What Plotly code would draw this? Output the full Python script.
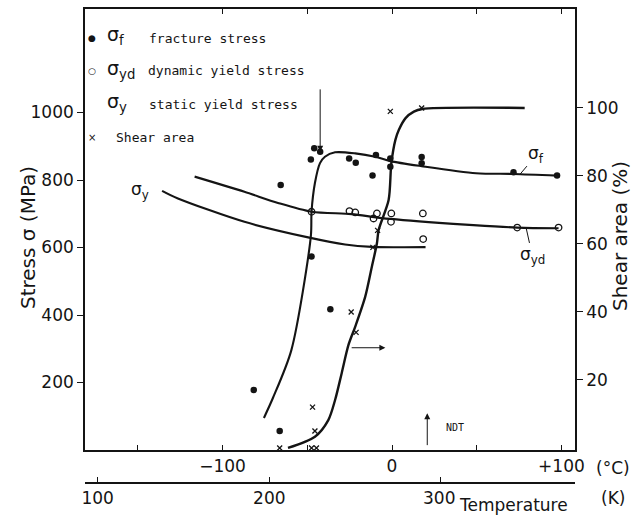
import plotly.graph_objects as go

# ---------------- data ----------------
# fracture stress points (deg C, MPa)
frac_T = [-81.6, -66.3, -65.7, -47.9, -45.9, -42.4, -47.5, -36.4, -25.3, -21.4, -11.5, -9.5, -1.0, -1.0, 17.5, 17.5, 71.7, 97.4]
frac_S = [178, 56, 785, 861, 894, 884, 573, 417, 864, 851, 813, 874, 864, 839, 868, 850, 823, 813]
# dynamic yield stress points
yd_T = [-47.5, -25.1, -21.7, -10.9, -8.9, -0.4, -0.6, 18.2, 18.4, 73.9, 98.3]
yd_S = [706, 708, 704, 686, 701, 701, 676, 701, 625, 659, 659]
# shear area points (deg C, %)
shear_T = [-66.3, -47.5, -44.6, -45.5, -46.9, -24.1, -21.2, -11.3, -8.5, -1.0, 17.5]
shear_P = [0, 0, 0, 5, 12, 40, 34, 59, 64, 99, 100]

# fitted curves
fc_T = [-75.6, -70.3, -59.4, -47.9, -47.5, -45.5, -42.5, -39.6, -33.6, -21.7, -9.9, -1.0, 17.5, 49.6, 71.7, 97.4]
fc_S = [95, 154, 296, 634, 706, 791, 850, 869, 882, 879, 869, 856, 841, 820, 818, 813]
ydc_T = [-116.5, -87.1, -67.3, -47.5, -23.8, -5.9, 27.7, 45.6, 73.9, 98.3]
ydc_S = [810, 765, 732, 706, 699, 687, 673, 667, 659, 657]
yc_T = [-135.7, -126.7, -87.1, -49.5, -27.7, -11.9, 19.8]
yc_S = [768, 746, 676, 630, 609, 602, 601]
sc_T = [-61.4, -45.5, -37.6, -33.6, -29.7, -25.7, -21.7, -15.8, -11.9, -8.9, -7.9, -2.0, -0.4, 2.0, 4.0, 8.0, 12.9, 17.8, 78.3]
sc_P = [0, 3.3, 8.2, 14.1, 22, 30.3, 35.7, 44.5, 53.3, 60.2, 64.1, 72.9, 83.7, 90.6, 93.5, 97, 98.9, 99.7, 100]

# axis ticks
c_ticks = [-150, -100, -50, 0, 50, 100]
c_text = ["", "\u2212100", "", "0", "", "+100"]
top_ticks = [-100, -50, 0, 50, 100]
k_ticks = [100, 200, 300]
k_text = ["100", "200", "300\u2009"]
s_ticks = [200, 400, 600, 800, 1000]
p_ticks = [20, 40, 60, 80, 100]

# ---------------- figure ----------------
INK = "#141414"
W, H = 637, 518
L, R, T, B = 85, 62, 9, 35
PW, PH = W - L - R, H - T - B
AX_Y = 450  # pixel row of main x axis


def px(x):
    return (x - L) / PW


def py(y):
    return (H - B - y) / PH


fig = go.Figure()

line_kw = dict(color=INK, width=2.1)
fig.add_trace(go.Scatter(x=fc_T, y=fc_S, mode="lines", line=dict(shape="spline", smoothing=0.8, **line_kw), hoverinfo="skip"))
fig.add_trace(go.Scatter(x=ydc_T, y=ydc_S, mode="lines", line=dict(shape="spline", smoothing=0.8, **line_kw), hoverinfo="skip"))
fig.add_trace(go.Scatter(x=yc_T, y=yc_S, mode="lines", line=dict(shape="spline", smoothing=0.8, **line_kw), hoverinfo="skip"))
fig.add_trace(go.Scatter(x=sc_T, y=sc_P, mode="lines", yaxis="y2", line=dict(shape="spline", smoothing=0.8, color=INK, width=2.4), hoverinfo="skip"))

fig.add_trace(go.Scatter(x=frac_T, y=frac_S, mode="markers", marker=dict(symbol="circle", size=6.5, color=INK)))
fig.add_trace(go.Scatter(x=yd_T, y=yd_S, mode="markers", marker=dict(symbol="circle-open", size=6.5, color=INK, line=dict(width=1.3))))
fig.add_trace(go.Scatter(x=shear_T, y=shear_P, mode="markers", yaxis="y2", marker=dict(symbol="x-thin", size=5, line=dict(width=1.3, color=INK))))

# invisible traces so the extra axes render
fig.add_trace(go.Scatter(x=[0], y=[0], xaxis="x3", mode="markers", marker=dict(opacity=0), hoverinfo="skip"))
fig.add_trace(go.Scatter(x=[200], y=[0], xaxis="x4", mode="markers", marker=dict(opacity=0), hoverinfo="skip"))

tick_font = dict(family="DejaVu Sans", size=17, color=INK)
y_dom0 = (H - B - AX_Y) / PH

fig.update_layout(
    width=W, height=H,
    margin=dict(l=L, r=R, t=T, b=B, autoexpand=False),
    paper_bgcolor="white", plot_bgcolor="white",
    showlegend=False,
    xaxis=dict(range=[-181.2, 108.0], domain=[0, 1], anchor="y", showgrid=False, zeroline=False,
               automargin=False,
               showline=True, linecolor=INK, linewidth=1.6, mirror=True,
               tickmode="array", tickvals=c_ticks, ticktext=c_text, ticks="inside", ticklen=5,
               tickwidth=1.4, tickcolor=INK, tickfont=tick_font),
    xaxis3=dict(range=[-181.2, 108.0], overlaying="x", side="top", anchor="y", showgrid=False,
                automargin=False,
                zeroline=False, showline=False, tickmode="array", tickvals=top_ticks, ticks="inside",
                ticklen=5, tickwidth=1.4, tickcolor=INK, showticklabels=False),
    xaxis4=dict(range=[92.6, 378.1], overlaying="x", anchor="free", position=0, showgrid=False,
                automargin=False,
                zeroline=False, showline=True, linecolor=INK, linewidth=1.6,
                tickmode="array", tickvals=k_ticks, ticktext=k_text, ticks="inside", ticklen=5,
                tickwidth=1.4, tickcolor=INK, tickfont=tick_font),
    yaxis=dict(range=[0, 1306.7], domain=[y_dom0, 1], anchor="x", showgrid=False, zeroline=False,
               automargin=False,
               showline=True, linecolor=INK, linewidth=1.6,
               tickmode="array", tickvals=s_ticks, ticks="outside", ticklen=6, tickwidth=1.4,
               tickcolor=INK, tickfont=tick_font),
    yaxis2=dict(range=[-0.6, 129.1], overlaying="y", side="right", anchor="x", showgrid=False,
                automargin=False,
                zeroline=False, showline=True, linecolor=INK, linewidth=1.6,
                tickmode="array", tickvals=p_ticks, ticks="outside", ticklen=6, tickwidth=1.4,
                tickcolor=INK, tickfont=tick_font),
)

ann = []


def text(x, y, s, size=13, family="DejaVu Sans Mono", xanchor="center", angle=0):
    ann.append(dict(x=px(x), y=py(y), xref="paper", yref="paper", text=s, showarrow=False,
                    xanchor=xanchor, yanchor="middle", textangle=angle,
                    font=dict(family=family, size=size, color=INK)))


# legend block
text(92, 38, "\u25cf", size=9, family="DejaVu Sans")
text(105, 36, "\u03c3<sub>f</sub>", size=19, family="DejaVu Sans", xanchor="left")
text(147, 38, "fracture stress", xanchor="left")
text(92, 71, "\u25cb", size=9, family="DejaVu Sans")
text(105, 69, "\u03c3<sub>yd</sub>", size=19, family="DejaVu Sans", xanchor="left")
text(146, 70, "dynamic yield stress", xanchor="left")
text(105, 102, "\u03c3<sub>y</sub>", size=19, family="DejaVu Sans", xanchor="left")
text(147, 104, "static yield stress", xanchor="left")
text(92, 137, "\u00d7", size=10, family="DejaVu Sans")
text(114, 137, "Shear area", xanchor="left")

# curve labels
text(140, 190, "\u03c3<sub>y</sub>", size=17, family="DejaVu Sans")
text(455, 427, "NDT", size=10)

# axis titles & units
text(28, 238, "Stress \u03c3 (MPa)", size=20, family="DejaVu Sans", angle=-90)
text(620, 236, "Shear area (%)", size=20, family="DejaVu Sans", angle=-90)
text(613, 468, "(\u00b0C)", size=17, family="DejaVu Sans")
text(613, 498, "(K)", size=17, family="DejaVu Sans")
text(457, 505, "Temperature", size=17, family="DejaVu Sans", xanchor="left")

# leader-line labels for curves
ann.append(dict(x=75.2, y=815, xref="x", yref="y", text="\u03c3<sub>f</sub>", showarrow=True,
                arrowhead=0, arrowwidth=1, arrowcolor=INK, ax=17, ay=-20,
                font=dict(family="DejaVu Sans", size=17, color=INK)))
ann.append(dict(x=79.3, y=655, xref="x", yref="y", text="\u03c3<sub>yd</sub>", showarrow=True,
                arrowhead=0, arrowwidth=1, arrowcolor=INK, ax=6, ay=27,
                font=dict(family="DejaVu Sans", size=17, color=INK)))

# arrows
ann.append(dict(x=-42.4, y=884, ax=-42.4, ay=1073, xref="x", yref="y", axref="x", ayref="y",
                text="", showarrow=True, arrowhead=2, arrowsize=1.2, arrowwidth=1, arrowcolor=INK))
ann.append(dict(x=-3.9, y=303, ax=-24.7, ay=303, xref="x", yref="y", axref="x", ayref="y",
                text="", showarrow=True, arrowhead=2, arrowsize=1.2, arrowwidth=1, arrowcolor=INK))
ann.append(dict(x=20.8, y=109, ax=20.8, ay=10, xref="x", yref="y", axref="x", ayref="y",
                text="", showarrow=True, arrowhead=2, arrowsize=1.2, arrowwidth=1, arrowcolor=INK))

fig.update_layout(annotations=ann)
fig.write_html(
    "out.html",
    config={"displayModeBar": False},
    post_script="document.body.style.margin='0';document.body.style.padding='0';"
                "document.documentElement.style.overflow='hidden';",
)
